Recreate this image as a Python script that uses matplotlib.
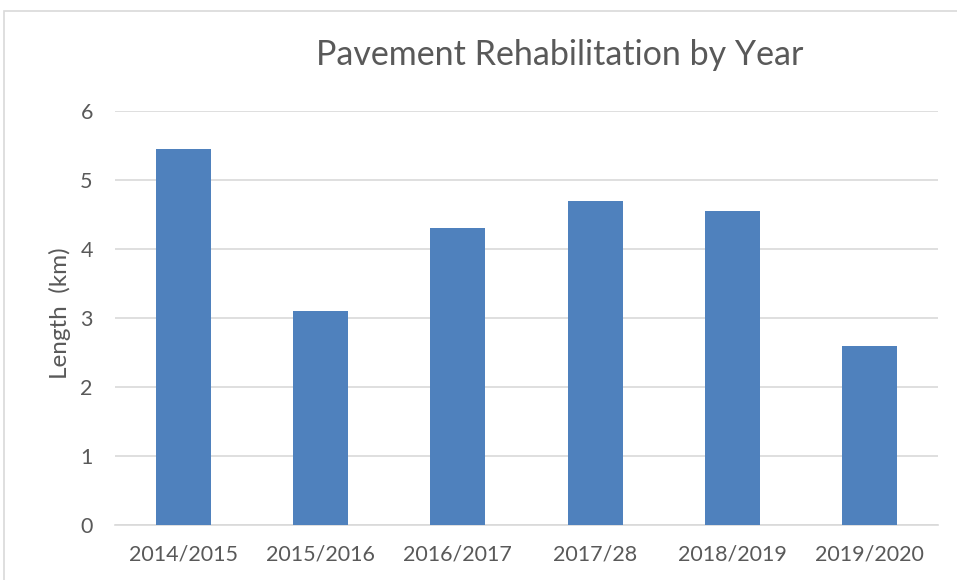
import matplotlib
matplotlib.use("Agg")
import matplotlib.pyplot as plt
from matplotlib.patches import Rectangle

categories = ["2014/2015", "2015/2016", "2016/2017", "2017/28", "2018/2019", "2019/2020"]
lengths_km = [5.45, 3.1, 4.3, 4.7, 4.55, 2.6]
y_ticks = [0, 1, 2, 3, 4, 5, 6]

plt.rcParams['font.family'] = ['Lato', 'DejaVu Sans']
text_color = '#595959'
bar_color = '#4F81BD'
grid_color = '#D9D9D9'

fig = plt.figure(figsize=(9.57, 5.80), dpi=100)
ax = fig.add_axes([115/957, 55/580, (938-115)/957, (525-111)/580])

x = range(len(categories))
ax.bar(x, lengths_km, width=0.4, color=bar_color, zorder=3)
ax.set_xlim(-0.5, len(categories) - 0.5)
ax.set_ylim(0, 6)
ax.set_yticks(y_ticks)
ax.set_xticks(list(x))
ax.set_xticklabels(categories)
ax.yaxis.grid(True, color=grid_color, linewidth=1.2, zorder=0)
ax.set_axisbelow(True)
for s in ['top', 'right', 'left']:
    ax.spines[s].set_visible(False)
ax.spines['bottom'].set_color(grid_color)
ax.spines['bottom'].set_linewidth(1.2)
ax.tick_params(axis='both', length=0, labelsize=15.5, colors=text_color)
ax.tick_params(axis='x', pad=14)
ax.tick_params(axis='y', pad=16)
fig.text(60/957, 1 - 313/580, "Length  (km)", rotation=90, ha='center', va='center',
         fontsize=17.5, color=text_color)
fig.text(560/957, 1 - 55/580, "Pavement Rehabilitation by Year", ha='center', va='center',
         fontsize=24.5, color=text_color)

fig.patches.append(Rectangle((4/957, -0.1), 1.2, 1 - 11/580 + 0.1, transform=fig.transFigure,
                             fill=False, edgecolor='#D9D9D9', linewidth=1.2))

fig.savefig("out.png", dpi=100, facecolor='white')
